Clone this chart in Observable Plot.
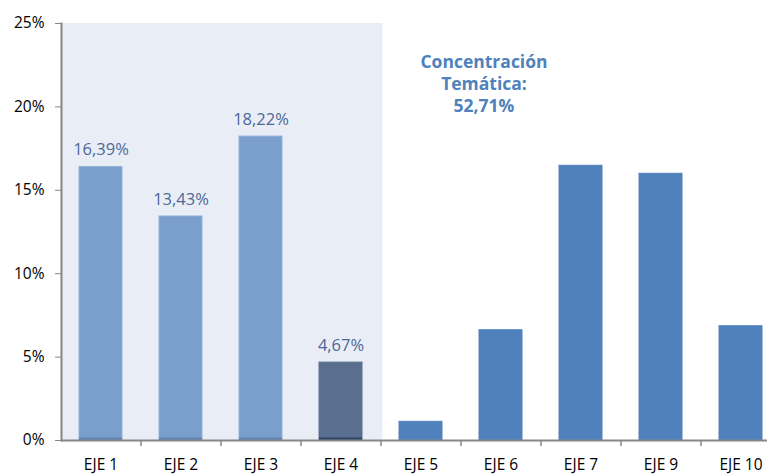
<!DOCTYPE html>
<html>
<head>
<meta charset="utf-8">
<script src="https://cdn.jsdelivr.net/npm/d3@7"></script>
<script src="https://cdn.jsdelivr.net/npm/@observablehq/plot@0.6"></script>
<style>
  html, body { margin: 0; padding: 0; background: #fff; overflow: hidden; }
  #chart { width: 767px; height: 475px; }
</style>
</head>
<body>
<div id="chart"></div>
<script>
const categories = ["EJE 1", "EJE 2", "EJE 3", "EJE 4", "EJE 5", "EJE 6", "EJE 7", "EJE 9", "EJE 10"];
const values = [16.39, 13.43, 18.22, 4.67, 1.12, 6.61, 16.47, 15.99, 6.85];
const groups = ["hl", "hl", "hl", "dark", "base", "base", "base", "base", "base"];
const labelled = ["EJE 1", "EJE 2", "EJE 3", "EJE 4"];
const labelTexts = ["16,39%", "13,43%", "18,22%", "4,67%"];
const shaded = ["EJE 1", "EJE 2", "EJE 3", "EJE 4"];
const yTicks = [0, 5, 10, 15, 20, 25];
const annotation = "Concentración\nTemática:\n52,71%";

const data = categories.map((c, i) => ({cat: c, value: values[i], group: groups[i]}));
const labels = labelled.map((c, i) => ({cat: c, value: values[categories.indexOf(c)], text: labelTexts[i]}));
const colorOf = {hl: "#7A9FCD", dark: "#5A6F8F", base: "#4F81BD"};
const edgeOf = {hl: "#8FB0D8", dark: "#5A6F8F", base: "#4F81BD"};
const stripOf = {hl: "#5F83B5", dark: "#2E4466"};

const W = 767, H = 475;
const xRange = [61, 781];
const step = (xRange[1] - xRange[0]) / categories.length;
const padInner = 0.46;
const gap = step * padInner / 2;

const plot = Plot.plot({
  width: W,
  height: H,
  marginLeft: 61,
  marginRight: 0,
  marginTop: 23,
  marginBottom: 35,
  style: {fontFamily: "'Open Sans', sans-serif", fontSize: "14px", color: "#000", background: "#fff", overflow: "visible"},
  x: {domain: categories, range: xRange, paddingInner: padInner, paddingOuter: padInner / 2, label: null},
  y: {domain: [0, 25], label: null},
  marks: [
    Plot.barY(shaded, {x: d => d, y: 25, fill: "#E9EEF6", insetLeft: -gap, insetRight: -gap - 2}),
    Plot.barY(data, {x: "cat", y: "value", fill: d => colorOf[d.group], stroke: d => edgeOf[d.group], strokeWidth: 1}),
    Plot.tickY(data.filter(d => d.group !== "base"), {x: "cat", y: 0, stroke: d => stripOf[d.group], strokeWidth: 3, dy: -1.5}),
    Plot.text(labels, {x: "cat", y: "value", text: "text", dy: -17, fill: "#4D6898", fontSize: 16.5}),
    Plot.text([annotation], {x: () => "EJE 5", y: () => 21.45, text: d => d, dx: 63, fill: "#4F81BD", fontWeight: "bold", fontSize: 17.5, lineHeight: 1.26}),
    Plot.axisY({ticks: yTicks, tickFormat: d => d + "%", tickSize: 6, tickPadding: 11, stroke: "#868686", fontSize: 15.5}),
    Plot.frame({anchor: "left", stroke: "#868686", strokeWidth: 2}),
    Plot.ruleY([0], {stroke: "#868686", strokeWidth: 2}),
    Plot.ruleX(categories.slice(1), {x: d => d, y1: 0, y2: 0, dx: -step / 2, stroke: "#868686", strokeWidth: 1.5, insetBottom: -6}),
    Plot.axisX({tickSize: 0, tickPadding: 18, fontSize: 15.5})
  ]
});
document.getElementById("chart").append(plot);
</script>
</body>
</html>
